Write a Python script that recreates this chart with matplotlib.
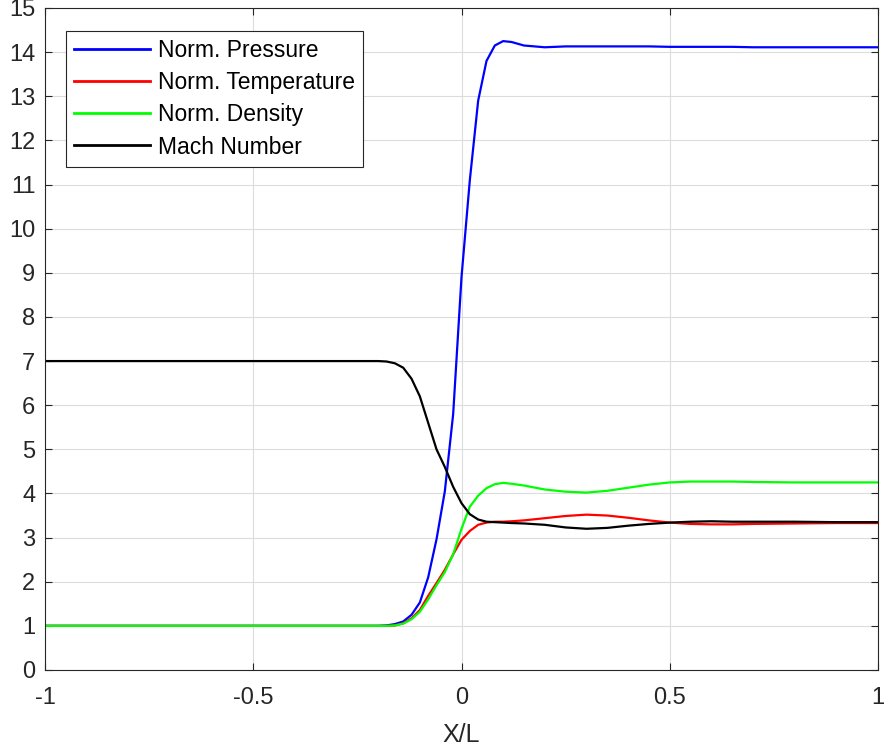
import matplotlib
matplotlib.use("Agg")
import matplotlib.pyplot as plt

plt.rcParams['font.family'] = ['Liberation Sans', 'DejaVu Sans']

x = [-1.0, -0.5, -0.22, -0.2, -0.18, -0.16, -0.14, -0.12, -0.10, -0.08, -0.06, -0.04,
     -0.02, 0.0, 0.02, 0.04, 0.06, 0.08, 0.10, 0.12, 0.15, 0.2, 0.25, 0.3, 0.35,
     0.4, 0.45, 0.5, 0.55, 0.6, 0.65, 0.7, 0.8, 0.9, 1.0]

pressure = [1.0, 1.0, 1.0, 1.0, 1.01, 1.04, 1.1, 1.25, 1.53, 2.1, 2.96, 4.05,
            5.8, 8.9, 11.1, 12.9, 13.8, 14.15, 14.25, 14.23, 14.15, 14.11, 14.13, 14.13, 14.13,
            14.13, 14.13, 14.12, 14.12, 14.12, 14.12, 14.11, 14.11, 14.11, 14.11]

temperature = [1.0, 1.0, 1.0, 1.0, 1.0, 1.01, 1.06, 1.17, 1.36, 1.68, 1.97, 2.27,
               2.62, 2.95, 3.15, 3.29, 3.34, 3.36, 3.36, 3.37, 3.39, 3.44, 3.49, 3.52, 3.5,
               3.45, 3.39, 3.34, 3.31, 3.30, 3.30, 3.31, 3.32, 3.33, 3.33]

density = [1.0, 1.0, 1.0, 1.0, 1.0, 1.01, 1.05, 1.15, 1.32, 1.6, 1.92, 2.22,
           2.62, 3.2, 3.7, 3.95, 4.12, 4.21, 4.24, 4.22, 4.18, 4.09, 4.04, 4.02, 4.06,
           4.13, 4.2, 4.25, 4.27, 4.27, 4.27, 4.26, 4.25, 4.25, 4.25]

mach = [7.0, 7.0, 7.0, 7.0, 6.99, 6.95, 6.85, 6.6, 6.2, 5.6, 5.0, 4.6,
        4.15, 3.78, 3.53, 3.41, 3.36, 3.35, 3.34, 3.33, 3.32, 3.29, 3.23, 3.2, 3.22,
        3.27, 3.31, 3.34, 3.36, 3.37, 3.36, 3.36, 3.36, 3.35, 3.35]

series = [
    ("Norm. Pressure", pressure, "#0000ff"),
    ("Norm. Temperature", temperature, "#ff0000"),
    ("Norm. Density", density, "#00ff00"),
    ("Mach Number", mach, "#000000"),
]

xticks = [-1, -0.5, 0, 0.5, 1]
xticklabels = ["-1", "-0.5", "0", "0.5", "1"]
yticks = list(range(0, 16))

fig = plt.figure(figsize=(8.88, 7.49), dpi=100)
ax = fig.add_axes([45/888, 1-670/749, (878-45)/888, (670-8)/749])

for label, vals, color in series:
    ax.plot(x, vals, color=color, lw=1.6, label=label)

ax.set_xlim(-1, 1)
ax.set_ylim(0, 15)
ax.set_xticks(xticks)
ax.set_xticklabels(xticklabels)
ax.set_yticks(yticks)
ax.set_yticklabels([str(v) for v in yticks])
ax.grid(True, color='#dcdcdc', lw=0.8)
ax.set_axisbelow(True)
ax.tick_params(direction='in', top=True, right=True, length=5, width=0.8,
               labelsize=17, colors='#262626')
ax.tick_params(axis='y', pad=7)
ax.tick_params(axis='x', pad=12)
for sp in ax.spines.values():
    sp.set_color('#262626')
    sp.set_linewidth(0.8)
ax.set_xlabel("X/L", fontsize=18, color='#262626', labelpad=10)

leg = ax.legend(loc='upper left', bbox_to_anchor=(21/833, 1-23/662), fontsize=16.5,
                frameon=True, fancybox=False, edgecolor='#262626', framealpha=1,
                handlelength=3.3, handletextpad=0.38, borderpad=0.35, labelspacing=0.4,
                borderaxespad=0)
leg.get_frame().set_linewidth(0.8)
for line in leg.get_lines():
    line.set_linewidth(2.0)

fig.savefig("out.png", dpi=100)
